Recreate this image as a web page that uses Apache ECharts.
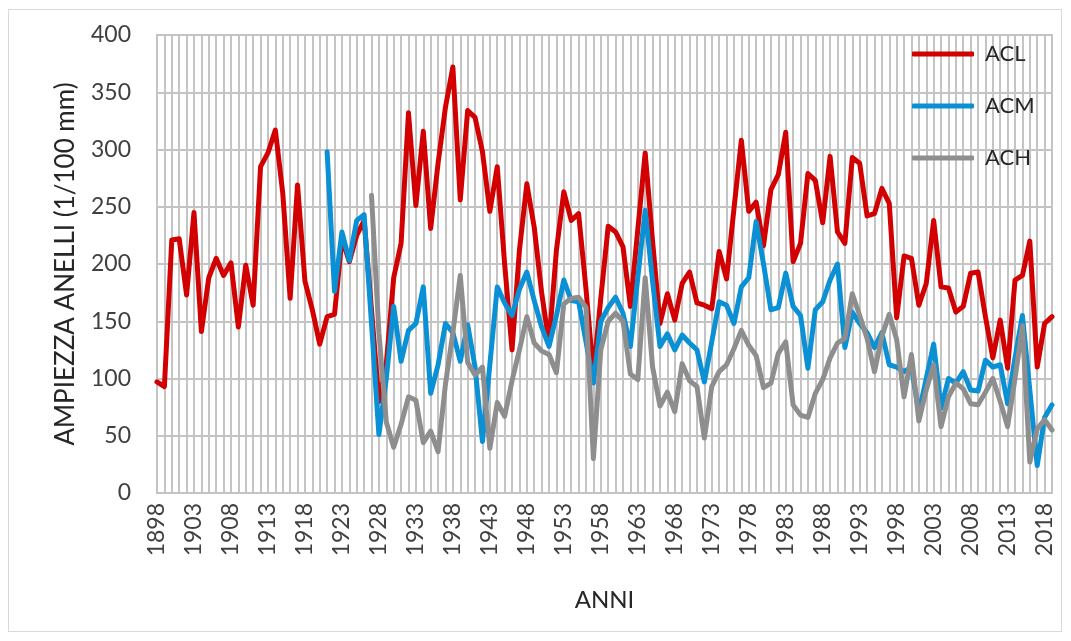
<!DOCTYPE html>
<html>
<head>
<meta charset="utf-8">
<title>Ampiezza anelli</title>
<script src="https://cdn.jsdelivr.net/npm/echarts@6/dist/echarts.min.js"></script>
<style>
  html, body { margin: 0; padding: 0; background: #ffffff; }
  #frame { position: absolute; left: 8px; top: 9px; width: 1054px; height: 623px; border: 1px solid #d9d9d9; box-sizing: border-box; }
  #chart { position: absolute; left: 0; top: 0; width: 1071px; height: 641px; }
</style>
</head>
<body>
<div id="frame"></div>
<div id="chart"></div>
<script>
// Years on the category axis
const years = [];
for (let y = 1898; y <= 2019; y++) years.push(String(y));

// Tree-ring width, hundredths of a millimetre
const acl = [
  97, 93, 221, 222, 173, 245, 141, 188, 205, 190,
  201, 145, 199, 164, 285, 297, 317, 262, 170, 269,
  185, 160, 130, 154, 156, 222, 202, 225, 238, 160,
  80, 113, 188, 218, 332, 251, 316, 231, 288, 337,
  372, 256, 334, 328, 298, 246, 285, 200, 125, 212,
  270, 232, 175, 131, 212, 263, 238, 244, 178, 104,
  170, 233, 228, 215, 163, 230, 297, 220, 148, 174,
  151, 183, 193, 166, 164, 161, 211, 187, 248, 308,
  246, 254, 216, 265, 278, 315, 202, 218, 279, 273,
  236, 294, 228, 218, 293, 288, 242, 244, 266, 253,
  153, 207, 205, 164, 183, 238, 180, 179, 158, 163,
  192, 193, 154, 118, 151, 109, 186, 190, 220, 110,
  148, 154
];

const acm = [
  null, null, null, null, null, null, null, null, null, null,
  null, null, null, null, null, null, null, null, null, null,
  null, null, null,
  298, 176, 228, 203, 238, 243, 148, 51, 100, 163,
  115, 142, 148, 180, 87, 112, 148, 140, 115, 147,
  110, 45, 112, 180, 166, 155, 178, 193, 168, 145,
  128, 155, 186, 168, 167, 132, 96, 150, 162, 171,
  157, 128, 188, 247, 185, 128, 139, 125, 138, 131,
  125, 97, 132, 167, 164, 148, 180, 188, 237, 200,
  160, 162, 192, 163, 155, 109, 160, 167, 186, 200,
  127, 158, 148, 140, 127, 140, 112, 110, 106, 110,
  70, 100, 130, 74, 100, 96, 106, 90, 89, 116,
  110, 112, 78, 118, 155, 90, 24, 66, 77
];

const ach = [
  null, null, null, null, null, null, null, null, null, null,
  null, null, null, null, null, null, null, null, null, null,
  null, null, null, null, null, null, null, null, null,
  260, 140, 62, 40, 60, 84, 81, 44, 54, 36,
  95, 140, 190, 114, 103, 110, 39, 79, 67, 98,
  125, 154, 131, 124, 121, 105, 165, 170, 171, 162,
  30, 125, 150, 157, 150, 104, 99, 188, 110, 76,
  88, 71, 113, 98, 93, 48, 93, 106, 112, 126,
  142, 129, 120, 92, 96, 122, 132, 77, 68, 66,
  87, 99, 118, 131, 135, 174, 155, 135, 106, 137,
  156, 134, 84, 121, 63, 90, 112, 58, 84, 96,
  91, 78, 77, 88, 100, 80, 58, 100, 146, 27,
  56, 64, 55
];

const seriesNames = ['ACL', 'ACM', 'ACH'];
const seriesColors = ['#D20000', '#0A90D4', '#8E8E8E'];
const seriesData = [acl, acm, ach];

const font = 'Lato, "Liberation Sans", sans-serif';
const textColor = '#404040';
const gridColor = '#C4C4C4';

const chart = echarts.init(document.getElementById('chart'), null, { renderer: 'canvas' });

chart.setOption({
  animation: false,
  backgroundColor: 'transparent',
  grid: {
    left: 157, right: 19, top: 35, bottom: 148,
    show: true, borderColor: gridColor, borderWidth: 2
  },
  legend: {
    data: seriesNames,
    orient: 'vertical',
    left: 907, top: 38,
    itemWidth: 62, itemHeight: 5,
    itemGap: 30,
    icon: 'roundRect',
    textStyle: { fontFamily: font, fontSize: 22, color: '#262626', lineHeight: 22, padding: [0, 0, 0, 6] }
  },
  xAxis: {
    type: 'category',
    data: years,
    boundaryGap: false,
    name: 'ANNI',
    nameLocation: 'middle',
    nameGap: 95,
    nameTextStyle: { fontFamily: font, fontSize: 24, color: '#262626' },
    axisLine: { show: false },
    axisTick: { show: false },
    axisLabel: {
      // a label every fifth year, from 1898
      interval: (idx) => idx % 5 === 0,
      rotate: 90, margin: 10,
      fontFamily: font, fontSize: 23, color: textColor
    },
    splitLine: { show: true, interval: 0, lineStyle: { color: gridColor, width: 2 } }
  },
  yAxis: {
    type: 'value',
    min: 0, max: 400, interval: 50,
    name: 'AMPIEZZA ANELLI (1/100 mm)',
    nameLocation: 'middle',
    nameGap: 78,
    nameTextStyle: { fontFamily: font, fontSize: 26, color: '#262626' },
    axisLine: { show: false },
    axisTick: { show: false },
    axisLabel: { margin: 26, fontFamily: font, fontSize: 23, color: textColor },
    splitLine: { show: true, lineStyle: { color: gridColor, width: 2 } }
  },
  series: seriesNames.map((name, k) => ({
    name: name,
    type: 'line',
    data: seriesData[k],
    symbol: 'none',
    connectNulls: false,
    color: seriesColors[k],
    lineStyle: { width: 5, color: seriesColors[k], cap: 'round', join: 'round' },
    emphasis: { disabled: true },
    z: 2 + k
  }))
});
</script>
</body>
</html>
